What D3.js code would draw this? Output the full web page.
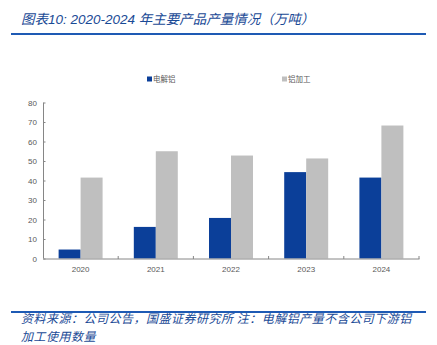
<!DOCTYPE html>
<html>
<head>
<meta charset="utf-8">
<script src="https://cdn.jsdelivr.net/npm/d3@7"></script>
<style>
html,body{margin:0;padding:0;background:#fff;}
svg{display:block;}
</style>
</head>
<body>
<svg id="c" width="437" height="345"></svg>
<script>
const years = ["2020","2021","2022","2023","2024"];
const seriesNames = ["电解铝","铝加工"];
const electrolyticAl = [4.6, 16.2, 20.8, 44.3, 41.5];
const alProcessing = [41.5, 55.0, 52.8, 51.3, 68.2];
const yTicks = [0,10,20,30,40,50,60,70,80];
const titleText = "图表10:  2020-2024 年主要产品产量情况（万吨）";
const sourceLine1 = "资料来源：公司公告，国盛证券研究所  注：电解铝产量不含公司下游铝";
const sourceLine2 = "加工使用数量";

const colors = ["#0B3F99", "#BFBFBF"];
const svg = d3.select("#c");

// header
svg.append("text").attr("x", 21).attr("y", 24)
  .attr("font-family", "'Liberation Sans','Noto Sans CJK SC',sans-serif")
  .attr("font-style", "italic").attr("font-size", 13.5).attr("fill", "#1A4A96")
  .text(titleText);
svg.append("rect").attr("x", 11).attr("y", 33).attr("width", 415).attr("height", 2).attr("fill", "#1E5AB4");

const x = d3.scaleBand().domain(years).range([43, 419]);
const x1 = d3.scaleBand().domain(seriesNames).range([0, x.bandwidth()]).paddingOuter(0.71);
const y = d3.scaleLinear().domain([0, 80]).range([258.5, 102.5]);

// bars
const seriesData = [electrolyticAl, alProcessing];
seriesNames.forEach((s, si) => {
  svg.append("g").selectAll("rect").data(years).join("rect")
    .attr("x", d => x(d) + x1(s))
    .attr("y", (d, i) => y(seriesData[si][i]))
    .attr("width", x1.bandwidth())
    .attr("height", (d, i) => y(0) - y(seriesData[si][i]))
    .attr("fill", colors[si]);
});

// y axis
const yAxis = d3.axisRight(y).tickValues(yTicks).tickSize(2.5).tickFormat(d3.format("d"));
const gy = svg.append("g").attr("transform", "translate(43,0)").call(yAxis);
gy.select(".domain").attr("stroke", "#868686").attr("d", `M0.5,${y(80)}V${y(0)}`);
gy.selectAll(".tick line").attr("stroke", "#868686").attr("x1", 0.5);
gy.selectAll(".tick text").attr("x", -6).attr("text-anchor", "end")
  .attr("font-family", "'Liberation Sans',sans-serif").attr("font-size", 8).attr("fill", "#595959");

// x axis
const gx = svg.append("g").attr("transform", `translate(0,${y(0)})`);
gx.append("line").attr("x1", 43).attr("x2", 419.5).attr("y1", 0.5).attr("y2", 0.5).attr("stroke", "#868686");
const boundaries = years.map(d => x(d) + x.bandwidth());
gx.selectAll("line.t").data(boundaries).join("line").attr("class", "t")
  .attr("x1", d => d).attr("x2", d => d).attr("y1", 0.5).attr("y2", -2.5).attr("stroke", "#868686");
gx.selectAll("text").data(years).join("text")
  .attr("x", d => x(d) + x.bandwidth() / 2).attr("y", 13)
  .attr("text-anchor", "middle")
  .attr("font-family", "'Liberation Sans',sans-serif").attr("font-size", 8).attr("fill", "#595959")
  .text(d => d);

// legend
const legendX = [147, 282];
seriesNames.forEach((s, i) => {
  svg.append("rect").attr("x", legendX[i]).attr("y", 76.5).attr("width", 5).attr("height", 5).attr("fill", colors[i]);
  svg.append("text").attr("x", legendX[i] + 6).attr("y", 82)
    .attr("font-family", "'Noto Sans CJK SC',sans-serif").attr("font-size", 7.5).attr("fill", "#595959")
    .text(s);
});

// footer
svg.append("rect").attr("x", 11).attr("y", 311).attr("width", 415).attr("height", 2).attr("fill", "#1E5AB4");
const ftFont = "'Noto Sans CJK SC',sans-serif";
svg.append("text").attr("x", 21).attr("y", 323)
  .attr("font-family", ftFont).attr("font-style", "italic").attr("font-size", 12)
  .attr("letter-spacing", 0.5).attr("fill", "#1A4A96").text(sourceLine1);
svg.append("text").attr("x", 21).attr("y", 340.5)
  .attr("font-family", ftFont).attr("font-style", "italic").attr("font-size", 12)
  .attr("letter-spacing", 0.5).attr("fill", "#1A4A96").text(sourceLine2);
</script>
</body>
</html>
